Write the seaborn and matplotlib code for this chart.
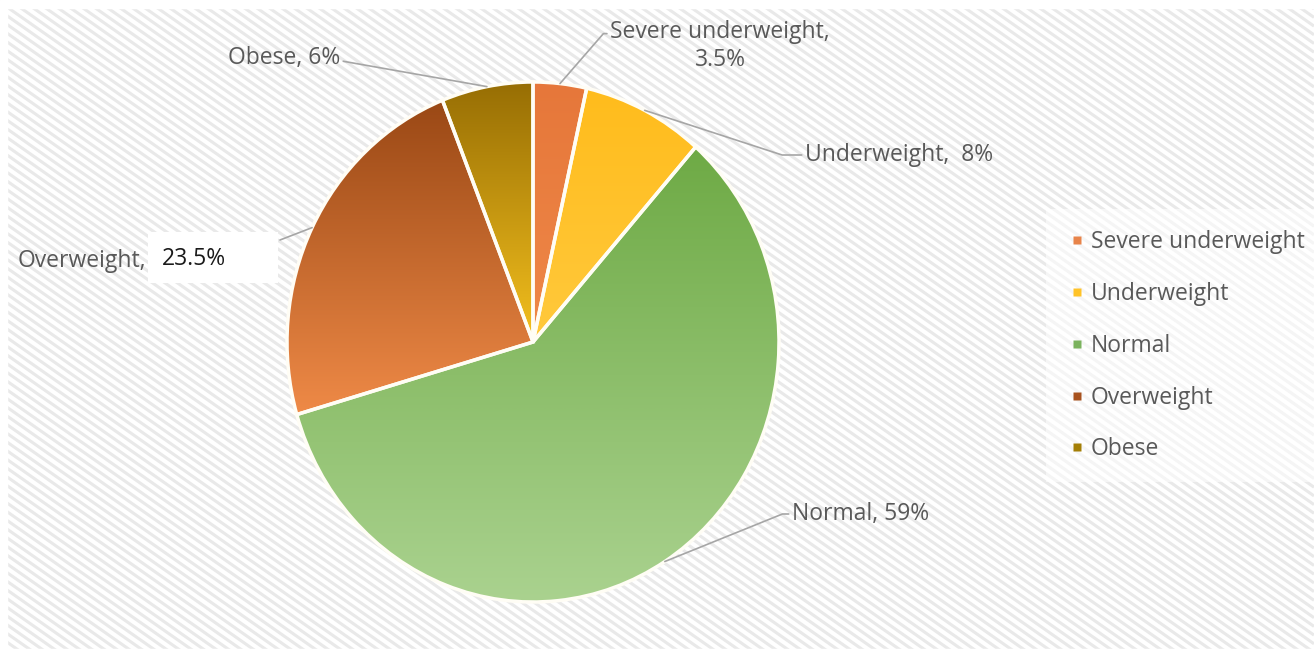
"""
bmi_pie.py

Pie chart of BMI categories with gradient wedges and a striped background.
"""

import numpy as np
import matplotlib.pyplot as plt
import seaborn as sns
from matplotlib.colors import LinearSegmentedColormap
from matplotlib.lines import Line2D
from matplotlib.patches import Rectangle
from matplotlib.collections import LineCollection

categories = ["Severe underweight", "Underweight", "Normal", "Overweight", "Obese"]
shares = [3.5, 8, 59, 23.5, 6]
value_labels = ["3.5%", "8%", "59%", "23.5%", "6%"]

# top / bottom colours of each wedge's gradient
top_colors = ["#E6773A", "#FFBC1C", "#6EAA45", "#9A4815", "#976E04"]
bottom_colors = ["#EF8848", "#FFC93C", "#AAD28F", "#EF8A47", "#F4C01E"]
legend_colors = ["#E8844A", "#FFC328", "#7BB35E", "#A8521E", "#A47F06"]

sns.set_theme(style="white")
plt.rcParams["font.family"] = ["Open Sans", "DejaVu Sans"]

W, H = 1314, 657
FS = 16.5
fig = plt.figure(figsize=(W / 100, H / 100), dpi=100)

# striped background
bg = fig.add_axes([0, 0, 1, 1], zorder=0)
bg.set_xlim(0, W)
bg.set_ylim(H, 0)
bg.axis("off")
slope = np.tan(np.radians(35))
segs = []
for c in np.arange(-W * slope, H + 20, 8.7):
    segs.append([(0, c), (W, c + W * slope)])
bg.add_collection(LineCollection(segs, colors="#e9e9e9", linewidths=2.2))
bg.add_patch(Rectangle((0, 0), W, 8, color="white", zorder=3))
bg.add_patch(Rectangle((0, H - 8), W, 8, color="white", zorder=3))
bg.add_patch(Rectangle((0, 0), 7, H, color="white", zorder=3))

# pie axes: centre and radii in pixels
CX, CY, RX, RY = 533, 342, 246, 260
ax = fig.add_axes([(CX - RX) / W, (H - CY - RY) / H, 2 * RX / W, 2 * RY / H], zorder=1)
ax.patch.set_alpha(0)


def px(x, y):
    return (x - CX) / RX, (CY - y) / RY


wedges, _ = ax.pie(shares, startangle=90, counterclock=False,
                   wedgeprops=dict(edgecolor="#fffdf5", linewidth=2.5))
ax.set_aspect("auto")

for w, top, bot in zip(wedges, top_colors, bottom_colors):
    th = np.radians(np.linspace(w.theta1, w.theta2, 100))
    ys = np.concatenate([[0], np.sin(th)])
    xs = np.concatenate([[0], np.cos(th)])
    cmap = LinearSegmentedColormap.from_list("g", [bot, top])
    grad = np.linspace(0, 1, 256).reshape(-1, 1)
    im = ax.imshow(grad, cmap=cmap, origin="lower", aspect="auto",
                   extent=(xs.min(), xs.max(), ys.min(), ys.max()),
                   interpolation="bicubic", zorder=1)
    im.set_clip_path(w)
    w.set_facecolor("none")
    w.set_zorder(2)

ax.set_xlim(-1, 1)
ax.set_ylim(-1, 1)
ax.axis("off")

mids = [np.radians((w.theta1 + w.theta2) / 2) for w in wedges]
pts = [(np.cos(m), np.sin(m)) for m in mids]

txt = dict(color="#595959", fontsize=FS)
line = dict(arrowstyle="-", color="#a6a6a6", lw=1.2, shrinkA=0, shrinkB=0)

ax.annotate(f"{categories[0]},\n{value_labels[0]}", xy=pts[0], xytext=px(720, 46),
            ha="center", va="center", linespacing=1.2, **txt,
            arrowprops=dict(**line, relpos=(0, 0.74),
                            connectionstyle="angle,angleA=0,angleB=49,rad=0"))
ax.annotate(f"{categories[1]},  {value_labels[1]}", xy=pts[1], xytext=px(805, 155),
            ha="left", va="center", **txt,
            arrowprops=dict(**line, relpos=(0, 0.5),
                            connectionstyle="angle,angleA=0,angleB=-18,rad=0"))
ax.annotate(f"{categories[2]}, {value_labels[2]}", xy=pts[2], xytext=px(792, 514),
            ha="left", va="center", **txt,
            arrowprops=dict(**line, relpos=(0, 0.5),
                            connectionstyle="angle,angleA=0,angleB=22,rad=0"))
ax.annotate(f"{categories[4]}, {value_labels[4]}", xy=pts[4], xytext=px(340, 58),
            ha="right", va="center", **txt,
            arrowprops=dict(**line, relpos=(1, 0.5),
                            connectionstyle="angle,angleA=0,angleB=-10,rad=0"))

# overweight label with white box around the value
bx0, by0 = px(148, 283)
bx1, by1 = px(278, 232)
ax.add_patch(Rectangle((bx0, by0), bx1 - bx0, by1 - by0, facecolor="white",
                       edgecolor="none", clip_on=False, zorder=3))
ax.text(*px(146, 261), f"{categories[3]},", ha="right", va="center", **txt)
ax.text(*px(162, 259), value_labels[3], ha="left", va="center", color="#1a1a1a",
        fontsize=FS, zorder=4)
ax.annotate("", xy=pts[3], xytext=px(280, 240), arrowprops=line)

handles = [Line2D([], [], marker="s", linestyle="none", markersize=6,
                  markerfacecolor=c, markeredgecolor="none") for c in legend_colors]
leg = fig.legend(handles, categories, loc="center left", bbox_to_anchor=(0.7875, 0.474),
                 frameon=True, fontsize=FS, labelspacing=1.22, handletextpad=0.15,
                 handlelength=0.9, borderpad=0.9, labelcolor="#595959")
leg.get_frame().set_facecolor("white")
leg.get_frame().set_alpha(0.55)
leg.get_frame().set_edgecolor("none")
leg.get_frame().set_boxstyle("square", pad=0)

fig.savefig("out.png", dpi=100)
